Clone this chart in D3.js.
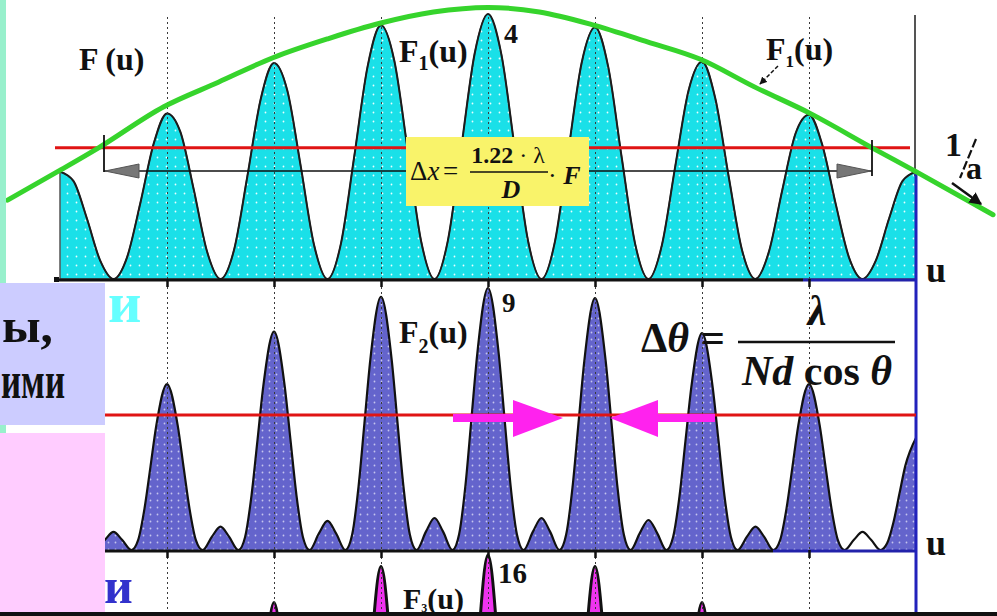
<!DOCTYPE html>
<html><head><meta charset="utf-8">
<script src="https://cdn.jsdelivr.net/npm/d3@7"></script>
<style>body{margin:0;background:#fff}svg{display:block}svg text{font-family:"Liberation Serif","DejaVu Serif",serif}</style>
</head><body><svg id="c" width="997" height="616"></svg>
<script>
// ---------------- data ----------------
const gridU = [-3, -2, -1, 0, 1, 2, 3];
// F1(u): two-slit pattern, max 4
const f1Points = [
 [-4,1.62],[-3.875,1.48],[-3.75,0.92],[-3.625,0.28],[-3.5,0],[-3.375,0.32],[-3.25,1.14],[-3.125,2.04],
 [-3,2.5],[-2.875,2.22],[-2.75,1.35],[-2.625,0.41],[-2.5,0],[-2.375,0.43],[-2.25,1.54],[-2.125,2.71],
 [-2,3.26],[-1.875,2.84],[-1.75,1.70],[-1.625,0.51],[-1.5,0],[-1.375,0.53],[-1.25,1.85],[-1.125,3.21],
 [-1,3.83],[-0.875,3.29],[-0.75,1.94],[-0.625,0.57],[-0.5,0],[-0.375,0.58],[-0.25,1.98],[-0.125,3.40],
 [0,4.0],[0.125,3.39],[0.25,1.97],[0.375,0.57],[0.5,0],[0.625,0.56],[0.75,1.92],[0.875,3.26],
 [1,3.8],[1.125,3.19],[1.25,1.83],[1.375,0.53],[1.5,0],[1.625,0.51],[1.75,1.70],[1.875,2.85],
 [2,3.28],[2.125,2.72],[2.25,1.54],[2.375,0.43],[2.5,0],[2.625,0.41],[2.75,1.34],[2.875,2.20],
 [3,2.48],[3.125,2.02],[3.25,1.13],[3.375,0.32],[3.5,0],[3.625,0.28],[3.75,0.92],[3.875,1.48],
 [4,1.62]
];
// F2(u): three-slit pattern, max 9
const f2Points = [
 [-4,3.8],[-3.9,2.85],[-3.845,1.9],[-3.79,0.95],[-3.73,0.23],[-3.667,0],
 [-3.58,0.35],[-3.5,0.62],[-3.42,0.35],[-3.333,0],
 [-3.27,0.34],[-3.21,1.43],[-3.155,2.85],[-3.1,4.28],[-3,5.7],[-2.9,4.28],[-2.845,2.85],[-2.79,1.43],[-2.73,0.34],[-2.667,0],
 [-2.58,0.46],[-2.5,0.8],[-2.42,0.46],[-2.333,0],
 [-2.27,0.45],[-2.21,1.88],[-2.155,3.75],[-2.1,5.63],[-2,7.5],[-1.9,5.63],[-1.845,3.75],[-1.79,1.88],[-1.73,0.45],[-1.667,0],
 [-1.58,0.57],[-1.5,1.0],[-1.42,0.57],[-1.333,0],
 [-1.27,0.52],[-1.21,2.18],[-1.155,4.35],[-1.1,6.53],[-1,8.7],[-0.9,6.53],[-0.845,4.35],[-0.79,2.18],[-0.73,0.52],[-0.667,0],
 [-0.58,0.63],[-0.5,1.1],[-0.42,0.63],[-0.333,0],
 [-0.27,0.54],[-0.21,2.25],[-0.155,4.5],[-0.1,6.75],[0,9],[0.1,6.75],[0.155,4.5],[0.21,2.25],[0.27,0.54],[0.333,0],
 [0.42,0.63],[0.5,1.1],[0.58,0.63],[0.667,0],
 [0.73,0.52],[0.79,2.16],[0.845,4.33],[0.9,6.49],[1,8.65],[1.1,6.49],[1.155,4.33],[1.21,2.16],[1.27,0.52],[1.333,0],
 [1.42,0.59],[1.5,1.03],[1.58,0.59],[1.667,0],
 [1.73,0.45],[1.79,1.86],[1.845,3.73],[1.9,5.59],[2,7.45],[2.1,5.59],[2.155,3.73],[2.21,1.86],[2.27,0.45],[2.333,0],
 [2.42,0.46],[2.5,0.8],[2.58,0.46],[2.667,0],
 [2.73,0.34],[2.79,1.43],[2.845,2.85],[2.9,4.28],[3,5.7],[3.1,4.28],[3.155,2.85],[3.21,1.43],[3.27,0.34],[3.333,0],
 [3.42,0.35],[3.5,0.62],[3.58,0.35],[3.667,0],
 [3.73,0.23],[3.79,0.96],[3.845,1.93],[3.9,2.89],[4,3.85]
];
// F3(u): four-slit pattern, max 16 (only the tops are visible)
const f3Points = [
 [-3.25,0],[-3.154,2.6],[-3.114,5.2],[-3.075,7.7],[-3,10.3],[-2.925,7.7],[-2.886,5.2],[-2.846,2.6],[-2.75,0],
 [-2.25,0],[-2.154,3.3],[-2.114,6.6],[-2.075,9.8],[-2,13.1],[-1.925,9.8],[-1.886,6.6],[-1.846,3.3],[-1.75,0],
 [-1.25,0],[-1.154,3.8],[-1.114,7.7],[-1.075,11.5],[-1,15.3],[-0.925,11.5],[-0.886,7.7],[-0.846,3.8],[-0.75,0],
 [-0.25,0],[-0.154,4.0],[-0.114,8.0],[-0.075,12.0],[0,16],[0.075,12.0],[0.114,8.0],[0.154,4.0],[0.25,0],
 [0.75,0],[0.846,3.8],[0.886,7.7],[0.925,11.5],[1,15.3],[1.075,11.5],[1.114,7.7],[1.154,3.8],[1.25,0],
 [1.75,0],[1.846,3.3],[1.886,6.6],[1.925,9.8],[2,13.1],[2.075,9.8],[2.114,6.6],[2.154,3.3],[2.25,0],
 [2.75,0],[2.846,2.6],[2.886,5.2],[2.925,7.7],[3,10.3],[3.075,7.7],[3.114,5.2],[3.154,2.6],[3.25,0]
];
// single-slit envelope (green), in F1 units
const envelopePoints = [
 [-4.49,1.19],[-3.99,1.65],[-3.64,1.98],[-3.03,2.60],[-2.52,2.97],[-2.01,3.34],[-1.49,3.63],[-1.01,3.86],
 [-0.51,4.03],[0,4.1],[0.48,4.03],[0.97,3.84],[1.49,3.58],[1.98,3.32],[2.49,2.90],[3.01,2.50],[3.59,1.98],
 [4.0,1.62],[4.72,0.97]
];
const halfLevel1 = 1.98;   // red line, top panel
const halfLevel2 = 4.64;   // red line, middle panel
const peakLabels = ["4", "9", "16"];

// ---------------- drawing ----------------
const W = 997, H = 616;
const svg = d3.select("#c");
const x  = d3.scaleLinear().domain([-4, 4]).range([60, 916]);
const y1 = d3.scaleLinear().domain([0, 4]).range([279, 14]);
const y2 = d3.scaleLinear().domain([0, 9]).range([550, 288]);
const y3 = d3.scaleLinear().domain([0, 16]).range([817, 555]);

svg.append("rect").attr("width", W).attr("height", H).attr("fill", "#fff");

const defs = svg.append("defs");
function dots(id, size, bg, dot) {
  const p = defs.append("pattern").attr("id", id).attr("patternUnits", "userSpaceOnUse")
    .attr("width", size).attr("height", size);
  p.append("rect").attr("width", size).attr("height", size).attr("fill", bg);
  p.append("circle").attr("cx", size / 2).attr("cy", size / 2).attr("r", 0.9).attr("fill", dot);
}
dots("dotC", 9, "#1ae0e8", "#e6ffff");
dots("dotP", 7, "#6464cc", "#c4c4ee");
defs.append("clipPath").attr("id", "clipB").append("rect")
  .attr("x", 0).attr("y", 553).attr("width", W).attr("height", 60);
const mk = defs.append("marker").attr("id", "ah").attr("viewBox", "0 0 10 10")
  .attr("refX", 9).attr("refY", 5).attr("markerWidth", 5).attr("markerHeight", 5).attr("orient", "auto");
mk.append("path").attr("d", "M0,0L10,5L0,10Z").attr("fill", "#111");

const areaGen = ys => d3.area().x(d => x(d[0])).y0(ys(0)).y1(d => ys(d[1])).curve(d3.curveMonotoneX);
const lineGen = ys => d3.line().x(d => x(d[0])).y(d => ys(d[1])).curve(d3.curveMonotoneX);

// fills
svg.append("path").datum(f1Points).attr("d", areaGen(y1)).attr("fill", "url(#dotC)")
  .attr("stroke", "#555").attr("stroke-width", 1.5);
svg.append("path").datum(f2Points).attr("d", areaGen(y2)).attr("fill", "url(#dotP)");
svg.append("path").datum(f2Points.filter(d => d[0] >= 3.333 && d[0] <= 3.667))
  .attr("d", areaGen(y2)).attr("fill", "#fff");
const gb = svg.append("g").attr("clip-path", "url(#clipB)");
gb.append("path").datum(f3Points).attr("d", areaGen(y3)).attr("fill", "#ee33ee");

// outlines
svg.append("path").datum(f1Points).attr("d", lineGen(y1)).attr("fill", "none")
  .attr("stroke", "#1c1c1c").attr("stroke-width", 2);
svg.append("path").datum(f2Points).attr("d", lineGen(y2)).attr("fill", "none")
  .attr("stroke", "#111").attr("stroke-width", 2.2);
gb.append("path").datum(f3Points).attr("d", lineGen(y3)).attr("fill", "none")
  .attr("stroke", "#111").attr("stroke-width", 3);

// dotted vertical grid
const grid = svg.append("g").attr("transform", "translate(0,17)")
  .call(d3.axisBottom(x).tickValues(gridU).tickSize(595).tickFormat(""));
grid.select(".domain").remove();
grid.selectAll(".tick line").attr("stroke", "#3a3a3a").attr("stroke-width", 1).attr("stroke-dasharray", "2,3");

// baselines
svg.append("line").attr("x1", 55).attr("x2", 803).attr("y1", 280).attr("y2", 280).attr("stroke", "#111").attr("stroke-width", 3);
svg.append("line").attr("x1", 803).attr("x2", 916).attr("y1", 280).attr("y2", 280).attr("stroke", "#2222aa").attr("stroke-width", 3);
svg.append("line").attr("x1", 105).attr("x2", 773).attr("y1", 551).attr("y2", 551).attr("stroke", "#111").attr("stroke-width", 3);
svg.append("line").attr("x1", 773).attr("x2", 916).attr("y1", 551).attr("y2", 551).attr("stroke", "#2222aa").attr("stroke-width", 3);
svg.append("rect").attr("x", 54).attr("y", 277).attr("width", 5).attr("height", 5).attr("fill", "#111");
// right border
svg.append("line").attr("x1", 915).attr("x2", 915).attr("y1", 15).attr("y2", 176).attr("stroke", "#555").attr("stroke-width", 2);
svg.append("line").attr("x1", 916).attr("x2", 916).attr("y1", 174).attr("y2", 612).attr("stroke", "#2222bb").attr("stroke-width", 3);
// tick marks at baselines
[279, 550].forEach(yy => {
  const t = svg.append("g").attr("transform", `translate(0,${yy})`)
    .call(d3.axisBottom(x).tickValues(gridU).tickSize(8).tickFormat(""));
  t.select(".domain").remove();
  t.selectAll(".tick line").attr("stroke", "#111").attr("stroke-width", 2.5);
});

// red half-level lines
svg.append("line").attr("x1", 55).attr("x2", 910).attr("y1", y1(halfLevel1)).attr("y2", y1(halfLevel1))
  .attr("stroke", "#e01414").attr("stroke-width", 3);
svg.append("line").attr("x1", 105).attr("x2", 916).attr("y1", y2(halfLevel2)).attr("y2", y2(halfLevel2))
  .attr("stroke", "#e01414").attr("stroke-width", 3);

// green envelope
svg.append("path").datum(envelopePoints)
  .attr("d", d3.line().x(d => x(d[0])).y(d => y1(d[1])).curve(d3.curveMonotoneX))
  .attr("fill", "none").attr("stroke", "#36d42c").attr("stroke-width", 5).attr("stroke-linecap", "round");

// dimension arrow (Δx)
const yA = 171;
svg.append("line").attr("x1", 104).attr("x2", 872).attr("y1", yA).attr("y2", yA).attr("stroke", "#111").attr("stroke-width", 1.6);
svg.append("line").attr("x1", 104).attr("x2", 104).attr("y1", 135).attr("y2", 172).attr("stroke", "#111").attr("stroke-width", 1.8);
svg.append("line").attr("x1", 872).attr("x2", 872).attr("y1", 140).attr("y2", 176).attr("stroke", "#111").attr("stroke-width", 1.8);
svg.append("path").attr("d", `M105,${yA}L139,${yA - 7}L139,${yA + 7}Z`).attr("fill", "#777").attr("stroke", "#555");
svg.append("path").attr("d", `M871,${yA}L837,${yA - 7}L837,${yA + 7}Z`).attr("fill", "#777").attr("stroke", "#555");

// yellow formula box
svg.append("rect").attr("x", 406).attr("y", 137).attr("width", 183).attr("height", 69).attr("fill", "#f9f36a");
function txt(x0, y0, size, anchor, parts, fill) {
  const t = svg.append("text").attr("x", x0).attr("y", y0)
    .style("font-family", "'Liberation Serif', 'DejaVu Serif', serif")
    .attr("font-size", size).attr("text-anchor", anchor || "start").attr("fill", fill || "#111");
  parts.forEach(p => {
    const s = t.append("tspan").text(p.t);
    if (p.b) s.attr("font-weight", "bold");
    if (p.i) s.attr("font-style", "italic");
    if (p.s) s.attr("font-size", p.s);
    if (p.dy) s.attr("dy", p.dy);
    if (p.dx) s.attr("dx", p.dx);
  });
  return t;
}
txt(410, 180, 27, "start", [{t: "Δ"}, {t: "x", i: 1}]);
txt(443, 180, 27, "start", [{t: "="}]);
txt(508, 163, 24, "middle", [{t: "1.22", b: 1}, {t: " · "}, {t: "λ"}]);
svg.append("line").attr("x1", 470).attr("x2", 548).attr("y1", 172).attr("y2", 172).attr("stroke", "#111").attr("stroke-width", 1.5);
txt(511, 198, 26, "middle", [{t: "D", b: 1, i: 1}]);
txt(548, 184, 26, "start", [{t: "· "}, {t: "F", b: 1, i: 1}]);

// magenta arrows
const yM = 418;
svg.append("rect").attr("x", 453).attr("y", yM - 4).attr("width", 61).attr("height", 8).attr("fill", "#ff22ee");
svg.append("path").attr("d", `M513,${yM - 18}L563,${yM}L513,${yM + 19}Z`).attr("fill", "#ff22ee");
svg.append("rect").attr("x", 657).attr("y", yM - 4).attr("width", 58).attr("height", 8).attr("fill", "#ff22ee");
svg.append("path").attr("d", `M658,${yM - 18}L610,${yM}L658,${yM + 19}Z`).attr("fill", "#ff22ee");

// Δθ formula
txt(641, 352, 42, "start", [{t: "Δ", b: 1}, {t: "θ", b: 1, i: 1}]);
txt(701, 352, 42, "start", [{t: "=", b: 1}]);
txt(817, 325, 42, "middle", [{t: "λ", b: 1, i: 1}]);
svg.append("line").attr("x1", 738).attr("x2", 895).attr("y1", 342).attr("y2", 342).attr("stroke", "#111").attr("stroke-width", 2.5);
txt(817, 385, 42, "middle", [{t: "Nd", b: 1, i: 1}, {t: " cos", b: 1}, {t: " θ", b: 1, i: 1}]);

// curve labels
txt(79, 70, 32, "start", [{t: "F (u)", b: 1}]);
txt(399, 62, 32, "start", [{t: "F", b: 1}, {t: "1", b: 1, s: 20, dy: 8}, {t: "(u)", b: 1, dy: -8}]);
txt(766, 60, 32, "start", [{t: "F", b: 1}, {t: "1", b: 1, s: 17, dy: 7}, {t: "(u)", b: 1, dy: -7}]);
svg.append("line").attr("x1", 778).attr("y1", 66).attr("x2", 760).attr("y2", 84)
  .attr("stroke", "#111").attr("stroke-width", 1.5).attr("stroke-dasharray", "4,2").attr("marker-end", "url(#ah)");
txt(399, 343, 32, "start", [{t: "F", b: 1}, {t: "2", b: 1, s: 20, dy: 10}, {t: "(u)", b: 1, dy: -10}]);
txt(403, 609, 30, "start", [{t: "F", b: 1}, {t: "3", b: 1, s: 12, dy: 3}, {t: "(u)", b: 1, dy: -3}]);
txt(504, 43, 28, "start", [{t: peakLabels[0], b: 1}]);
txt(502, 312, 27, "start", [{t: peakLabels[1], b: 1}]);
txt(498, 583, 29, "start", [{t: peakLabels[2], b: 1}]);
txt(926, 282, 36, "start", [{t: "u", b: 1}]);
txt(926, 555, 36, "start", [{t: "u", b: 1}]);
// 1/a
txt(945, 156, 34, "start", [{t: "1", b: 1}]);
svg.append("line").attr("x1", 976).attr("y1", 139).attr("x2", 960).attr("y2", 178)
  .attr("stroke", "#111").attr("stroke-width", 2.2).attr("stroke-dasharray", "9,3");
txt(966, 179, 32, "start", [{t: "a", b: 1}]);
svg.append("line").attr("x1", 952).attr("y1", 183).attr("x2", 981).attr("y2", 204)
  .attr("stroke", "#111").attr("stroke-width", 2.5).attr("marker-end", "url(#ah)");

// left slide fragments
svg.append("rect").attr("x", 0).attr("y", 0).attr("width", 6).attr("height", 283).attr("fill", "#98f0cc");
svg.append("rect").attr("x", 0).attr("y", 283).attr("width", 105).attr("height", 142).attr("fill", "#ccccff");
svg.append("rect").attr("x", 0).attr("y", 425).attr("width", 6).attr("height", 8).attr("fill", "#98f0cc");
svg.append("rect").attr("x", 0).attr("y", 433).attr("width", 105).attr("height", 179).attr("fill", "#ffccff");
txt(2, 342, 48, "start", [{t: "ы,", b: 1}]).attr("textLength", 51).attr("lengthAdjust", "spacingAndGlyphs");
txt(1, 398, 52, "start", [{t: "ими", b: 1}]).attr("textLength", 64).attr("lengthAdjust", "spacingAndGlyphs");
txt(108, 322, 58, "start", [{t: "и", b: 1}], "#66ffff");
txt(104, 603, 50, "start", [{t: "и", b: 1}], "#3232cc");
svg.append("rect").attr("x", 0).attr("y", 612).attr("width", W).attr("height", 4).attr("fill", "#111");
</script></body></html>
